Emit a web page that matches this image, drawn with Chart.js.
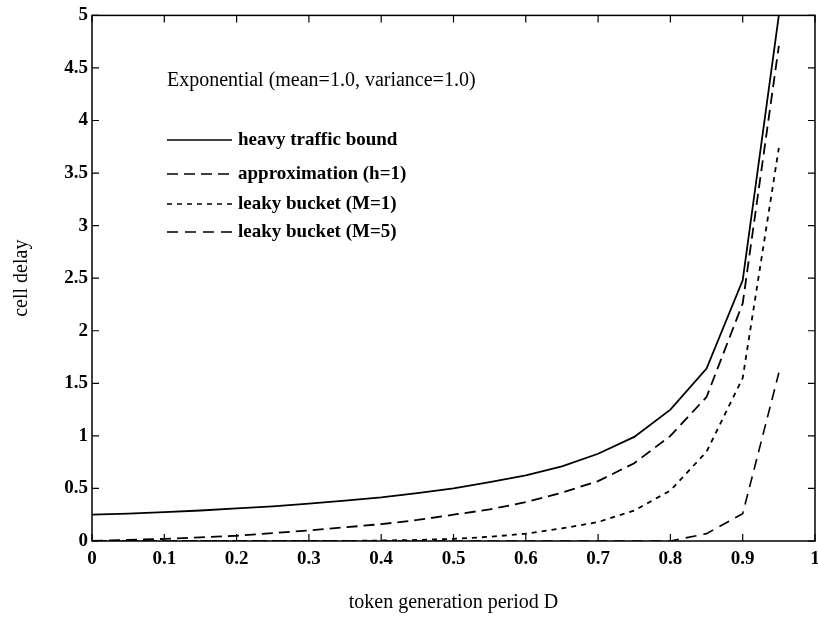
<!DOCTYPE html>
<html>
<head>
<meta charset="utf-8">
<script src="https://cdn.jsdelivr.net/npm/chart.js@4/dist/chart.umd.min.js"></script>
<style>
html,body{margin:0;padding:0;background:#fff;}
</style>
</head>
<body>
<canvas id="Grafico" width="818" height="618"></canvas>
<script>
// token generation period D
const periods=[0,0.05,0.1,0.15,0.2,0.25,0.3,0.35,0.4,0.45,0.5,0.55,0.6,0.65,0.7,0.75,0.8,0.85,0.9,0.95];
const heavyTraffic=[0.25,0.26,0.275,0.29,0.31,0.33,0.355,0.385,0.415,0.455,0.50,0.56,0.625,0.71,0.83,0.99,1.25,1.64,2.48,5.0];
const approximation=[0,0.01,0.02,0.035,0.05,0.075,0.10,0.13,0.16,0.20,0.25,0.30,0.37,0.46,0.57,0.74,1.0,1.37,2.26,4.71];
const leakyM1=[0,0,0,0,0,0,0,0,0.005,0.01,0.02,0.04,0.07,0.12,0.18,0.29,0.48,0.85,1.55,3.74];
const leakyM5=[0,0,0,0,0,0,0,0,0,0,0,0,0,0,0,0,0,0.07,0.26,1.6];
const xTicks=[0,0.1,0.2,0.3,0.4,0.5,0.6,0.7,0.8,0.9,1];
const yTicks=[0,0.5,1,1.5,2,2.5,3,3.5,4,4.5,5];
const seriesLabels=['heavy traffic bound','approximation (h=1)','leaky bucket (M=1)','leaky bucket (M=5)'];
const note='Exponential (mean=1.0, variance=1.0)';

const serif="'Liberation Serif', 'Times New Roman', serif";

function pares(ys){
    return periods.map((x,i)=>({x:x,y:ys[i]}));
}

// frame, inward ticks and the legend inside the plot
const marco={
    id:'marco',
    afterDraw(chart){
        const ctx=chart.ctx;
        const a=chart.chartArea;
        const sx=chart.scales.x, sy=chart.scales.y;
        const tl=7;
        ctx.save();
        ctx.strokeStyle='#000';
        ctx.lineWidth=1.5;
        ctx.strokeRect(a.left,a.top,a.right-a.left,a.bottom-a.top);
        ctx.lineWidth=1.2;
        ctx.beginPath();
        xTicks.forEach(v=>{
            const px=sx.getPixelForValue(v);
            ctx.moveTo(px,a.bottom); ctx.lineTo(px,a.bottom-tl);
            ctx.moveTo(px,a.top); ctx.lineTo(px,a.top+tl);
        });
        yTicks.forEach(v=>{
            const py=sy.getPixelForValue(v);
            ctx.moveTo(a.left,py); ctx.lineTo(a.left+tl,py);
            ctx.moveTo(a.right,py); ctx.lineTo(a.right-tl,py);
        });
        ctx.stroke();

        ctx.fillStyle='#000';
        ctx.textBaseline='middle';
        ctx.textAlign='left';
        ctx.font='20px '+serif;
        ctx.fillText(note,167,81);

        const filas=[140,174,204,232];
        ctx.font='bold 19px '+serif;
        chart.data.datasets.forEach((ds,i)=>{
            const y=filas[i];
            ctx.beginPath();
            ctx.lineWidth=1.6;
            ctx.setLineDash(ds.borderDash||[]);
            ctx.moveTo(167,y); ctx.lineTo(232,y);
            ctx.stroke();
            ctx.setLineDash([]);
            ctx.fillText(ds.label,238,y);
        });
        ctx.restore();
    }
};

let CanvasG=document.getElementById('Grafico').getContext('2d');
let datos={
    datasets:[
        {
            label:seriesLabels[0],
            data:pares(heavyTraffic),
            borderColor:'#000',
            borderWidth:1.8,
            borderDash:[],
        },
        {
            label:seriesLabels[1],
            data:pares(approximation),
            borderColor:'#000',
            borderWidth:1.8,
            borderDash:[11,6],
        },
        {
            label:seriesLabels[2],
            data:pares(leakyM1),
            borderColor:'#000',
            borderWidth:1.8,
            borderDash:[5,5],
        },
        {
            label:seriesLabels[3],
            data:pares(leakyM5),
            borderColor:'#000',
            borderWidth:1.6,
            borderDash:[11,7],
        },
    ]
};
let opciones={
    responsive:false,
    animation:false,
    layout:{padding:{top:14,right:3,left:0,bottom:0}},
    elements:{
        point:{radius:0},
        line:{tension:0,fill:false},
    },
    plugins:{
        legend:{display:false},
        tooltip:{enabled:false},
    },
    scales:{
        x:{
            type:'linear',
            min:0,max:1,
            grid:{display:false,drawTicks:false},
            border:{display:false},
            afterBuildTicks:s=>{s.ticks=xTicks.map(v=>({value:v}));},
            afterFit:s=>{s.height=77;s.paddingLeft=0;s.paddingRight=0;},
            ticks:{
                color:'#000',
                padding:7,
                maxRotation:0,
                font:{family:serif,size:19,weight:'bold'},
                callback:v=>String(v),
            },
            title:{
                display:true,
                text:'token generation period D',
                color:'#000',
                font:{family:serif,size:20},
                padding:3,
            },
        },
        y:{
            type:'linear',
            min:0,max:5,
            grid:{display:false,drawTicks:false},
            border:{display:false},
            afterBuildTicks:s=>{s.ticks=yTicks.map(v=>({value:v}));},
            afterFit:s=>{s.width=92;},
            ticks:{
                color:'#000',
                padding:4,
                font:{family:serif,size:19,weight:'bold'},
                callback:v=>String(v),
            },
            title:{
                display:true,
                text:'cell delay',
                color:'#000',
                font:{family:serif,size:20},
                padding:10,
            },
        },
    },
};
let G = new Chart(CanvasG,{
    type:'line',
    data:datos,
    options:opciones,
    plugins:[marco],
});
</script>
</body>
</html>
